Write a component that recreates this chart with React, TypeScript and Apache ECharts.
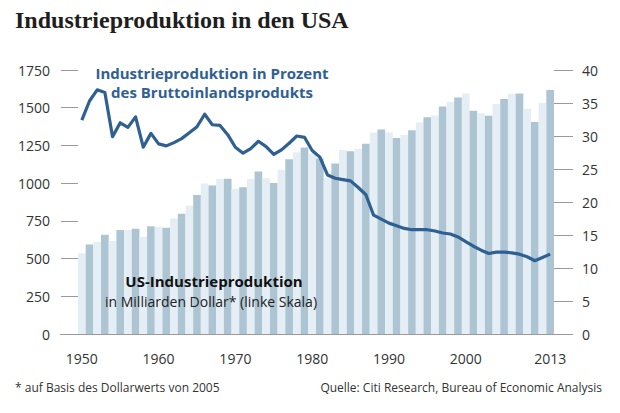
import React, { useEffect, useRef } from "react";
import * as echarts from "echarts";

const years: string[] = [
  "1950", "1951", "1952", "1953", "1954", "1955", "1956", "1957", "1958", "1959",
  "1960", "1961", "1962", "1963", "1964", "1965", "1966", "1967", "1968", "1969",
  "1970", "1971", "1972", "1973", "1974", "1975", "1976", "1977", "1978", "1979",
  "1980", "1981", "1982", "1983", "1984", "1985", "1986", "1987", "1988", "1989",
  "1990", "1991", "1992", "1993", "1994", "1995", "1996", "1997", "1998", "1999",
  "2000", "2001", "2002", "2003", "2004", "2005", "2006", "2007", "2008", "2009",
  "2010", "2013",
];

const tickLabels: string[] = ["1950", "1960", "1970", "1980", "1990", "2000", "2013"];

// US-Industrieproduktion, Mrd. Dollar (linke Skala)
const production: number[] = [
  535, 594, 612, 658, 616, 689, 689, 698, 643, 714,
  711, 705, 767, 797, 850, 921, 998, 985, 1027, 1029,
  963, 972, 1027, 1078, 1032, 1001, 1089, 1158, 1204, 1237,
  1197, 1164, 1035, 1131, 1219, 1211, 1226, 1261, 1336, 1356,
  1336, 1299, 1319, 1350, 1403, 1436, 1449, 1508, 1540, 1568,
  1595, 1480, 1464, 1447, 1524, 1557, 1593, 1595, 1491, 1405,
  1531, 1617,
];

// Industrieproduktion in Prozent des BIP (rechte Skala)
const shareOfGdp: number[] = [
  32.4, 35.3, 37.0, 36.6, 29.9, 32.0, 31.3, 32.9, 28.3, 30.4,
  28.8, 28.5, 29.0, 29.6, 30.5, 31.4, 33.3, 31.7, 31.6, 30.2,
  28.3, 27.4, 28.1, 29.2, 28.4, 27.2, 27.9, 28.9, 30.0, 29.8,
  27.8, 26.8, 24.1, 23.6, 23.4, 23.2, 22.2, 21.1, 18.0, 17.4,
  16.8, 16.4, 16.0, 15.8, 15.8, 15.8, 15.6, 15.3, 15.15, 14.7,
  14.0, 13.3, 12.7, 12.2, 12.4, 12.4, 12.3, 12.1, 11.7, 11.1,
  11.6, 12.1,
];

const SANS = "'Open Sans', 'Noto Sans', sans-serif";

export default function App() {
  const ref = useRef<HTMLDivElement>(null);
  useEffect(() => {
    if (!ref.current) return;
    const chart = echarts.init(ref.current, undefined, { renderer: "svg" });
    const option: any = {
      animation: false,
      backgroundColor: "#ffffff",
      grid: { left: 78, top: 70, width: 476, height: 264, containLabel: false },
      xAxis: {
        type: "category",
        data: years,
        axisLine: { show: false },
        axisTick: { show: false },
        axisLabel: {
          interval: 0,
          margin: 17,
          color: "#333",
          fontSize: 14,
          fontFamily: SANS,
          formatter: (v: string) => (tickLabels.indexOf(v) >= 0 ? v : ""),
        },
      },
      yAxis: [
        {
          type: "value",
          min: 0,
          max: 1750,
          interval: 250,
          position: "left",
          axisLine: { show: false },
          axisTick: { show: true, length: 17, lineStyle: { color: "#9a9a9a", width: 1 } },
          splitLine: { show: false },
          axisLabel: {
            margin: 28,
            color: "#333",
            fontSize: 14,
            fontFamily: SANS,
            formatter: (v: number) => String(v),
          },
        },
        {
          type: "value",
          min: 0,
          max: 40,
          interval: 5,
          position: "right",
          axisLine: { show: false },
          axisTick: { show: true, length: 19, lineStyle: { color: "#9a9a9a", width: 1 } },
          splitLine: { show: false },
          axisLabel: {
            margin: 28,
            color: "#333",
            fontSize: 14,
            fontFamily: SANS,
            formatter: (v: number) => String(v),
          },
        },
      ],
      series: [
        {
          type: "bar",
          data: production,
          yAxisIndex: 0,
          barCategoryGap: "0%",
          itemStyle: {
            color: (p: any) => (p.dataIndex % 2 === 0 ? "#e6eef5" : "#adc4d3"),
          },
          silent: true,
        },
        {
          type: "line",
          data: shareOfGdp,
          yAxisIndex: 1,
          showSymbol: false,
          symbol: "none",
          lineStyle: { color: "#2f6092", width: 3.2, join: "round" },
          z: 5,
        },
      ],
      graphic: [
        {
          type: "line",
          shape: { x1: 60, y1: 334.5, x2: 573, y2: 334.5 },
          style: { stroke: "#9a9a9a", lineWidth: 1 },
          z: 10,
        },
        {
          type: "text",
          left: 15,
          top: 8,
          style: {
            text: "Industrieproduktion in den USA",
            fontFamily: "'Liberation Serif', 'DejaVu Serif', serif",
            fontSize: 24,
            fontWeight: "bold",
            fill: "#1e1e1e",
          },
        },
        {
          type: "text",
          x: 212,
          y: 73,
          style: {
            text: "Industrieproduktion in Prozent",
            textAlign: "center",
            textVerticalAlign: "middle",
            fontFamily: SANS,
            fontSize: 15,
            fontWeight: "bold",
            fill: "#2f6092",
          },
          z: 20,
        },
        {
          type: "text",
          x: 212,
          y: 92,
          style: {
            text: "des Bruttoinlandsprodukts",
            textAlign: "center",
            textVerticalAlign: "middle",
            fontFamily: SANS,
            fontSize: 15,
            fontWeight: "bold",
            fill: "#2f6092",
          },
          z: 20,
        },
        {
          type: "text",
          x: 214,
          y: 281,
          style: {
            text: "US-Industrieproduktion",
            textAlign: "center",
            textVerticalAlign: "middle",
            fontFamily: SANS,
            fontSize: 15,
            fontWeight: "bold",
            fill: "#111",
          },
          z: 20,
        },
        {
          type: "text",
          x: 211,
          y: 301,
          style: {
            text: "in Milliarden Dollar* (linke Skala)",
            textAlign: "center",
            textVerticalAlign: "middle",
            fontFamily: SANS,
            fontSize: 14,
            fill: "#222",
          },
          z: 20,
        },
        {
          type: "text",
          x: 15,
          y: 387,
          style: {
            text: "* auf Basis des Dollarwerts von 2005",
            textAlign: "left",
            textVerticalAlign: "middle",
            fontFamily: SANS,
            fontSize: 12,
            fill: "#333",
          },
        },
        {
          type: "text",
          x: 602,
          y: 387,
          style: {
            text: "Quelle: Citi Research, Bureau of Economic Analysis",
            textAlign: "right",
            textVerticalAlign: "middle",
            fontFamily: SANS,
            fontSize: 12,
            fill: "#333",
          },
        },
      ],
    };
    chart.setOption(option);
    return () => chart.dispose();
  }, []);
  return (
    <div
      ref={ref}
      style={{ position: "fixed", left: 0, top: 0, width: 620, height: 413, background: "#fff" }}
    />
  );
}
